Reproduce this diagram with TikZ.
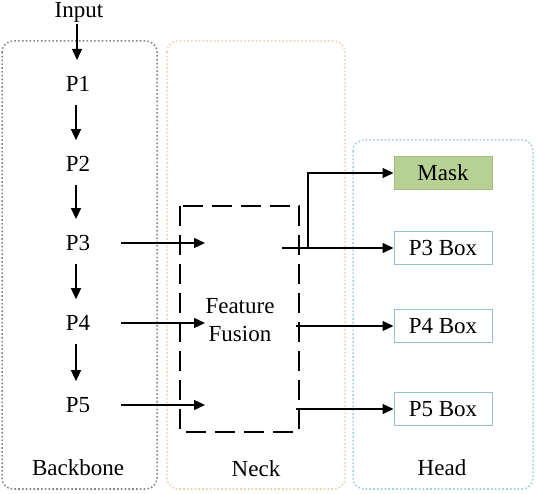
\documentclass[tikz,border=0pt]{standalone}
\usepackage{fontspec}
\setmainfont{Liberation Serif}
\usetikzlibrary{arrows.meta}

\definecolor{bbline}{HTML}{80828F}
\definecolor{neckline}{HTML}{F2CFA6}
\definecolor{headline}{HTML}{9DCFE2}
\definecolor{boxline}{HTML}{98C0D2}
\definecolor{maskfill}{HTML}{B7D093}

\begin{document}
\begin{tikzpicture}[
  x=1pt, y=-1pt,
  every node/.style={font=\fontsize{23}{28}\selectfont},
  lvl/.style={inner sep=2pt},
  grp/.style={rounded corners=11pt, line width=1.5pt, dash pattern=on 1.6pt off 2.2pt},
  outbox/.style={draw=boxline, line width=1pt, minimum width=98pt,
                 minimum height=33pt, inner sep=0pt},
  arr/.style={-{Triangle[length=11pt, width=10pt]}, line width=1.3pt}]
  \useasboundingbox (0,0) rectangle (536,494);
  % groups
  \draw[grp, draw=bbline] (2,41) rectangle (157,489);
  \draw[grp, draw=neckline] (167,41) rectangle (345,489);
  \draw[grp, draw=headline] (353,140) rectangle (533,489);
  \node (backbone) at (78,468) {Backbone};
  \node (neck) at (256,469) {Neck};
  \node (head) at (442,468) {Head};
  % backbone levels
  \node[lvl] (input) at (79,12) {Input};
  \node[lvl] (p1) at (78,84) {P1};
  \node[lvl] (p2) at (78,164) {P2};
  \node[lvl] (p3) at (78,243) {P3};
  \node[lvl] (p4) at (78,323) {P4};
  \node[lvl] (p5) at (78,405) {P5};
  \draw[arr] (input.south) ++(-2,0) -- (77,60);
  \draw[arr, shorten <=11pt, shorten >=14pt] (p1.south -| 76,0) -- (p2.north -| 76,0);
  \draw[arr, shorten <=11pt, shorten >=14pt] (p2.south -| 76,0) -- (p3.north -| 76,0);
  \draw[arr, shorten <=11pt, shorten >=14pt] (p3.south -| 76,0) -- (p4.north -| 76,0);
  \draw[arr, shorten <=11pt, shorten >=14pt] (p4.south -| 76,0) -- (p5.north -| 76,0);
  % neck
  \draw[line width=1.5pt, dash pattern=on 20pt off 9pt] (180,206) rectangle (299,432);
  \node[align=center] (fusion) at (240,320) {Feature\\Fusion};
  \coordinate (f3) at (205,243);
  \coordinate (f4) at (205,323);
  \coordinate (f5) at (205,405);
  \draw[arr, shorten <=29pt] (p3.east) -- (f3);
  \draw[arr, shorten <=29pt] (p4.east) -- (f4);
  \draw[arr, shorten <=29pt] (p5.east) -- (f5);
  % head
  \node[outbox, fill=maskfill, draw=maskfill!90!black] (mask) at (443,173) {Mask};
  \node[outbox] (box3) at (443,248) {P3 Box};
  \node[outbox] (box4) at (443,326) {P4 Box};
  \node[outbox] (box5) at (443,409) {P5 Box};
  \coordinate (o3) at (282,248);
  \coordinate (o4) at (296,326);
  \coordinate (o5) at (296,409);
  \coordinate (split) at (308,248);
  \draw[arr] (o3) -- (box3);
  \draw[arr] (o4) -- (box4);
  \draw[arr] (o5) -- (box5);
  \draw[arr] (split) |- (mask);
\end{tikzpicture}
\end{document}
